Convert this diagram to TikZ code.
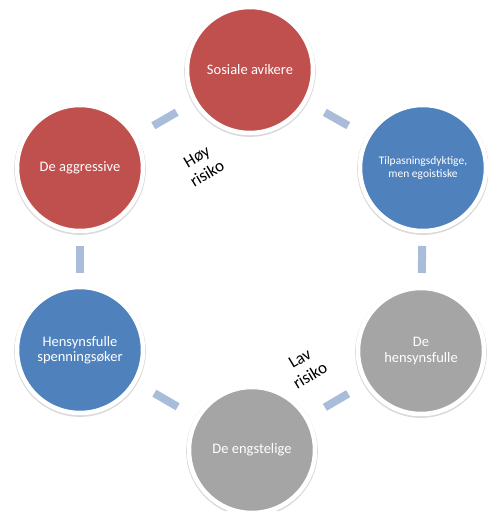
\documentclass[tikz,border=0pt]{standalone}
\usepackage{fontspec}
\setmainfont{Carlito}
\usetikzlibrary{shadows}
\definecolor{avred}{HTML}{C0504D}
\definecolor{avblue}{HTML}{4F81BD}
\definecolor{avgray}{HTML}{A5A5A5}
\definecolor{barblue}{HTML}{A9BDDA}

\begin{document}
\begin{tikzpicture}[x=1pt,y=-1pt,
    group/.style={circle,minimum size=126pt,inner sep=0pt,draw=white,line width=4.5pt,
      text=white,align=center,font=\fontsize{14.5}{15.5}\selectfont,
      drop shadow={shadow xshift=0pt,shadow yshift=-1pt,shadow scale=1.045,opacity=.25,fill=black!60}},
    bar/.style={rectangle,sloped,fill=barblue,minimum width=27pt,minimum height=8pt,inner sep=0pt},
    risk/.style={rotate=31,align=center,font=\fontsize{17}{20}\selectfont}]
  \useasboundingbox (0,0) rectangle (487,511);
  \node[group,fill=avred](sosiale) at (250,70){Sosiale avikere};
  \node[group,fill=avblue,font=\fontsize{11.5}{12.5}\selectfont](tilpas) at (423,168){Tilpasningsdyktige,\\men egoistiske};
  \node[group,fill=avgray](hensyn) at (421,351){De\\hensynsfulle};
  \node[group,fill=avgray](engst) at (252,450){De engstelige};
  \node[group,fill=avblue](spenn) at (80,350){Hensynsfulle\\spenningsøker};
  \node[group,fill=avred](aggr) at (80,168){De aggressive};
  % bars between the circles
  \foreach \a/\b in {sosiale/tilpas,tilpas/hensyn,hensyn/engst,engst/spenn,spenn/aggr,aggr/sosiale}
    \path (\a) -- node[bar]{} (\b);
  \node[risk](hoy) at (202,165){Høy\\risiko};
  \node[risk](lav) at (305,367){Lav\\risiko};
\end{tikzpicture}
\end{document}
